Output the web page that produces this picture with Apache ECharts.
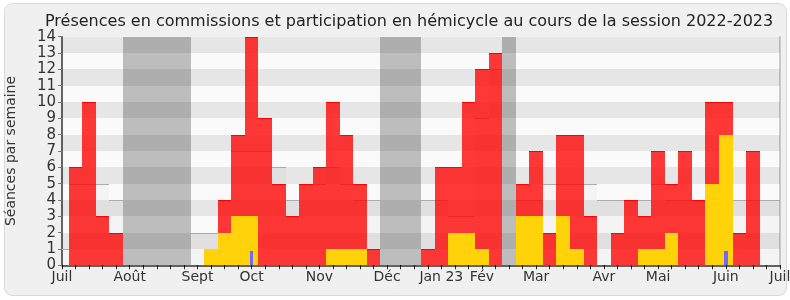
<!DOCTYPE html>
<html>
<head>
<meta charset="utf-8">
<script src="https://cdn.jsdelivr.net/npm/echarts@6/dist/echarts.min.js"></script>
<style>
html,body{margin:0;padding:0;background:#fff;}
#c{width:790px;height:300px;}
</style>
</head>
<body>
<div id="c"></div>
<script>
// Weekly slots (index 0 = first half-week of July 2022, 53 = start of July 2023)
const weekCount = 54;
const monthTickIdx = [0, 5, 10, 14, 19, 24, 28, 31, 35, 40, 44, 49, 53];
const monthNames = ['Juil', 'Août', 'Sept', 'Oct', 'Nov', 'Déc', 'Jan 23', 'Fév', 'Mar', 'Avr', 'Mai', 'Juin', 'Juil'];
const yTicks = [0,1,2,3,4,5,6,7,8,9,10,11,12,13,14];

// Vacation weeks (grey zones)
const vacationWeeks = [5, 6, 7, 8, 9, 24, 25, 26, 33];

// Yellow series (bottom of stack)
const yellowVals = [0,0,0,0,0, 0,0,0,0,0, 0,1,2,3,3, 0,0,0,0,0, 1,1,1,0,0, 0,0,0,0,2, 2,1,0,0,3, 3,0,3,1,0, 0,0,0,1,1, 2,0,0,5,8, 0,0,0,0];
// Red series (stacked on top of yellow)
const redVals = [0,6,10,3,2, 0,0,0,0,0, 0,0,2,5,11, 9,5,3,5,6, 9,7,4,1,0, 0,0,1,6,4, 8,11,13,0,2, 4,2,5,7,3, 0,2,4,2,6, 3,7,4,5,2, 2,7,0,0];
// Blue marks
const blueVals = [0,0,0,0,0, 0,0,0,0,0, 0,0,0,0,0.85, 0,0,0,0,0, 0,0,0,0,0, 0,0,0,0,0, 0,0,0,0,0, 0,0,0,0,0, 0,0,0,0,0, 0,0,0,0,0.85, 0,0,0,0];
// Median (grey step line)
const medianVals = [1,5,5,5,4, 0,0,0,0,0, 2,2,4,7,7, 7,6,4,5,5, 6,5,4,4,0, 0,0,4,4,3, 3,9,12,0,4, 4,5,5,5,5, 4,4,4,4,5, 4,4,4,4,4, 4,4,4,4];

const categories = Array.from({length: weekCount}, (_, i) => String(i));
const labelMap = {};
monthTickIdx.forEach((k, i) => { labelMap[k] = monthNames[i]; });

function weekRect(api, idx, y0, y1, frac) {
  const c0 = api.coord([idx, y0]);
  const c1 = api.coord([idx, y1]);
  const w = api.size([1, 0])[0] * (frac || 1);
  const xa = Math.round(c0[0] - w / 2), xb = Math.round(c0[0] + w / 2);
  const ya = Math.round(c1[1]), yb = Math.round(c0[1]);
  return { x: xa, y: ya, width: xb - xa, height: yb - ya };
}

const FONT = 'DejaVu Sans';
const chart = echarts.init(document.getElementById('c'), null, {renderer: 'canvas'});

const option = {
  backgroundColor: '#ffffff',
  animation: false,
  title: {
    text: 'Présences en commissions et participation en hémicycle au cours de la session 2022-2023',
    left: 40, top: 9,
    textStyle: { fontFamily: FONT, fontSize: 16, fontWeight: 'normal', color: '#222' }
  },
  graphic: { elements: [{
    type: 'rect', z: -100, silent: true,
    shape: { x: 4.5, y: 3.5, width: 782, height: 292, r: 8 },
    style: { fill: '#f0f0f0', stroke: '#d8d8d8', lineWidth: 1 }
  }]},
  grid: { left: 62, right: 10, top: 36.7, bottom: 34.7, show: true, backgroundColor: '#fafafa', borderWidth: 0,
          containLabel: false, outerBoundsMode: 'none' },
  xAxis: [{
    type: 'category', data: categories, boundaryGap: false, position: 'bottom',
    axisLine: { show: true, lineStyle: { color: '#333', width: 1.5 } },
    axisTick: { show: true, interval: 0, length: 4, lineStyle: { color: '#333' } },
    axisLabel: {
      interval: (i) => labelMap[i] !== undefined,
      formatter: (v, i) => labelMap[i] || '',
      fontFamily: FONT, fontSize: 14, color: '#333', margin: 5
    },
    splitLine: { show: false }
  }, {
    type: 'category', data: categories, boundaryGap: false, position: 'top',
    axisLine: { show: false },
    axisTick: { show: true, inside: true, interval: 0, length: 2, lineStyle: { color: '#000' } },
    axisLabel: { show: false }, splitLine: { show: false }
  }],
  yAxis: [{
    type: 'value', min: 0, max: 14, interval: 1,
    name: 'Séances par semaine', nameLocation: 'middle', nameGap: 44,
    nameTextStyle: { fontFamily: FONT, fontSize: 14, color: '#333' },
    axisLine: { show: true, lineStyle: { color: '#333', width: 1.5 } },
    axisTick: { show: true, length: 4, lineStyle: { color: '#777' } },
    axisLabel: { fontFamily: FONT, fontSize: 15, color: '#333', margin: 6 },
    splitLine: { show: false }
  }, {
    type: 'value', min: 0, max: 14, interval: 1, position: 'right',
    axisLine: { show: true, lineStyle: { color: '#bbb', width: 1.5 } },
    axisTick: { show: false }, axisLabel: { show: false }, splitLine: { show: false }
  }],
  series: [
    {
      type: 'custom', name: 'vacances', z: 1, clip: true,
      data: vacationWeeks.map(k => [k, 14]),
      renderItem: (params, api) => ({
        type: 'rect', shape: weekRect(api, api.value(0), 0, api.value(1)),
        style: { fill: '#bdbdbd' }
      })
    },
    {
      type: 'custom', name: 'bandes', z: 2, clip: true,
      data: yTicks.filter(v => v % 2 === 1).map(v => [0, v]),
      renderItem: (params, api) => {
        const cs = params.coordSys;
        const v = api.value(1);
        const yTop = Math.round(api.coord([0, v + 1])[1]);
        const yBot = Math.round(api.coord([0, v])[1]);
        return { type: 'rect', shape: { x: cs.x, y: yTop, width: cs.width, height: yBot - yTop },
                 style: { fill: 'rgba(0,0,0,0.08)' } };
      }
    },
    {
      type: 'custom', name: 'médiane', z: 3, clip: true,
      data: medianVals.map((v, i) => [i, v]),
      renderItem: (params, api) => {
        const v = api.value(1);
        if (!v) return null;
        const r = weekRect(api, api.value(0), 0, v);
        return { type: 'group', children: [
          { type: 'rect', shape: r, style: { fill: 'rgba(0,0,0,0.025)' } },
          { type: 'line', shape: { x1: r.x, y1: r.y + 0.5, x2: r.x + r.width, y2: r.y + 0.5 },
            style: { stroke: '#aaaaaa', lineWidth: 1.2 } }
        ]};
      }
    },
    {
      type: 'custom', name: 'jaune', z: 4, clip: true,
      data: yellowVals.map((v, i) => [i, v]),
      renderItem: (params, api) => {
        const v = api.value(1);
        if (!v) return null;
        return { type: 'rect', shape: weekRect(api, api.value(0), 0, v), style: { fill: '#ffd20a' } };
      }
    },
    {
      type: 'custom', name: 'rouge', z: 5, clip: true,
      data: redVals.map((v, i) => [i, v, yellowVals[i]]),
      renderItem: (params, api) => {
        const v = api.value(1);
        if (!v) return null;
        const base = api.value(2);
        const r = weekRect(api, api.value(0), base, base + v);
        return { type: 'group', children: [
          { type: 'rect', shape: r, style: { fill: 'rgba(255,0,0,0.78)' } },
          { type: 'line', shape: { x1: r.x, y1: r.y + 0.5, x2: r.x + r.width, y2: r.y + 0.5 },
            style: { stroke: '#ff0000', lineWidth: 1.2 } }
        ]};
      }
    },
    {
      type: 'custom', name: 'bleu', z: 6, clip: true,
      data: blueVals.map((v, i) => [i, v]),
      renderItem: (params, api) => {
        const v = api.value(1);
        if (!v) return null;
        return { type: 'rect', shape: weekRect(api, api.value(0), 0, v, 0.26), style: { fill: '#6b6bff' } };
      }
    }
  ]
};
chart.setOption(option);
</script>
</body>
</html>
